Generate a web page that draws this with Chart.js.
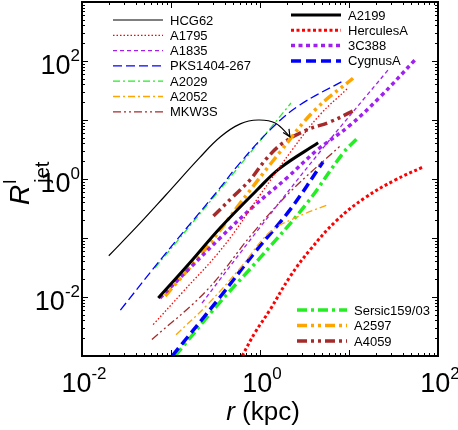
<!DOCTYPE html>
<html>
<head>
<meta charset="utf-8">
<script src="https://cdn.jsdelivr.net/npm/chart.js@4"></script>
<style>
  body { margin: 0; background: #fff; }
</style>
</head>
<body>
<canvas id="chart" width="458" height="430"></canvas>
<script>
// [r (kpc), R^l_jet] pairs
const HCG62 = [[0.020, 0.050], [0.042, 0.16], [0.086, 0.52], [0.21, 2.3], [0.36, 5.2], [0.60, 8.6], [0.95, 10], [1.48, 8.9], [2.17, 5.2]]
const A1795 = [[0.063, 0.0034], [0.136, 0.0122], [0.384, 0.070], [1.0, 0.535], [2.29, 3.1], [4.7, 12.2], [9.5, 33.5]]
const A1835 = [[0.223, 0.0079], [0.95, 0.137], [4.7, 2.87], [27.4, 70]]
const PKS1404 = [[0.027, 0.006], [0.081, 0.048], [0.34, 0.65], [0.60, 1.9], [1.40, 7.6], [2.8, 18], [8.6, 46]]
const A2029 = [[0.066, 0.031], [0.36, 0.68], [2.23, 19.4]]
const A2052 = [[0.114, 0.0023], [0.254, 0.0073], [0.60, 0.031], [1.29, 0.126], [2.47, 0.218], [5.66, 0.362]]
const MKW3S = [[0.061, 0.0019], [0.254, 0.0131], [0.834, 0.122], [2.17, 0.60], [7.9, 3.6]]
const A2199 = [[0.072, 0.0096], [0.163, 0.038], [0.356, 0.148], [0.925, 0.65], [1.68, 1.53], [4.5, 4.1]]
const HERCULES = [[0.63, 0.001], [0.88, 0.0025], [1.29, 0.006], [2.17, 0.022], [3.65, 0.063], [7.3, 0.20], [15.1, 0.48], [33, 0.96], [68, 1.6]]
const C3C388 = [[0.075, 0.0096], [0.163, 0.031], [0.356, 0.10], [0.83, 0.335], [2.0, 1.04], [4.4, 3.1], [10.3, 8.2], [22.3, 24.5], [55, 104]]
const CYGNUS = [[0.103, 0.001], [0.356, 0.01], [0.88, 0.058], [2.17, 0.30], [5.1, 1.94]]
const SERSIC = [[0.111, 0.001], [0.356, 0.0082], [1.0, 0.046], [3.37, 0.39], [8.6, 2.76], [12.6, 5.0]]
const A2597 = [[0.086, 0.0104], [0.254, 0.070], [0.60, 0.39], [1.68, 2.87], [4.15, 14.8], [11.1, 51]]
const A4059 = [[0.30, 0.236], [0.48, 0.476], [0.77, 0.96], [1.2, 2.27], [1.81, 4.07], [3.37, 6.8], [6.1, 9.25], [11.1, 14.2]]

const X_LABELS = [[0.01, '10', '-2'], [1, '10', '0'], [100, '10', '2']]
const Y_LABELS = [[0.01, '10', '-2'], [1, '10', '0'], [100, '10', '2']]

const LEGEND_LEFT = ['HCG62', 'A1795', 'A1835', 'PKS1404-267', 'A2029', 'A2052', 'MKW3S']
const LEGEND_RIGHT = ['A2199', 'HerculesA', '3C388', 'CygnusA']
const LEGEND_BOTTOM = ['Sersic159/03', 'A2597', 'A4059']

const FONT = '"Liberation Sans", Arial, sans-serif'

const series = [
  { label: 'HCG62', data: HCG62, color: '#000000', width: 1.2, dash: [] },
  { label: 'A1795', data: A1795, color: '#ff0000', width: 1.3, dash: [1.5, 2] },
  { label: 'A1835', data: A1835, color: '#a020f0', width: 1.3, dash: [4, 3] },
  { label: 'PKS1404-267', data: PKS1404, color: '#0000ff', width: 1.3, dash: [9, 4] },
  { label: 'A2029', data: A2029, color: '#22ee22', width: 1.3, dash: [7, 3, 2, 3] },
  { label: 'A2052', data: A2052, color: '#ffa500', width: 1.3, dash: [7, 3, 2, 3] },
  { label: 'MKW3S', data: MKW3S, color: '#a52a2a', width: 1.3, dash: [8, 3, 2, 3, 2, 3] },
  { label: 'A2199', data: A2199, color: '#000000', width: 3, dash: [] },
  { label: 'HerculesA', data: HERCULES, color: '#ff0000', width: 3, dash: [3, 2.5] },
  { label: '3C388', data: C3C388, color: '#a020f0', width: 3.5, dash: [4, 3.5] },
  { label: 'CygnusA', data: CYGNUS, color: '#0000ff', width: 3.5, dash: [10, 5] },
  { label: 'Sersic159/03', data: SERSIC, color: '#22ee22', width: 3.5, dash: [10, 4, 3, 4] },
  { label: 'A2597', data: A2597, color: '#ffa500', width: 3.5, dash: [10, 4, 3, 4, 3, 4] },
  { label: 'A4059', data: A4059, color: '#a52a2a', width: 3.5, dash: [10, 4, 3, 4, 3, 4] }
]

const datasets = series.map(s => ({
  label: s.label,
  data: s.data,
  borderColor: s.color,
  borderWidth: s.width,
  borderDash: s.dash,
  pointRadius: 0,
  fill: false,
  tension: 0.4
}))

function drawPow(ctx, base, exp, x, y, align) {
  ctx.font = '27px ' + FONT
  const w1 = ctx.measureText(base).width
  ctx.font = '17px ' + FONT
  const w2 = ctx.measureText(exp).width
  let x0 = x
  if (align === 'center') x0 = x - (w1 + w2) / 2
  if (align === 'right') x0 = x - (w1 + w2)
  ctx.textAlign = 'left'
  ctx.textBaseline = 'alphabetic'
  ctx.font = '27px ' + FONT
  ctx.fillText(base, x0, y)
  ctx.font = '17px ' + FONT
  ctx.fillText(exp, x0 + w1, y - 13)
}

function drawLegend(chart, names, x1, x2, y0, step) {
  const ctx = chart.ctx
  names.forEach((name, i) => {
    const ds = chart.data.datasets.find(d => d.label === name)
    const y = y0 + i * step
    ctx.save()
    ctx.strokeStyle = ds.borderColor
    ctx.lineWidth = ds.borderWidth
    ctx.setLineDash(ds.borderDash)
    ctx.beginPath()
    ctx.moveTo(x1, y)
    ctx.lineTo(x2, y)
    ctx.stroke()
    ctx.restore()
    ctx.fillStyle = '#000'
    ctx.font = '13px ' + FONT
    ctx.textAlign = 'left'
    ctx.textBaseline = 'middle'
    ctx.fillText(name, x2 + 7, y + 1)
  })
}

const decor = {
  id: 'decor',
  afterDatasetsDraw(chart) {
    const { ctx, chartArea: a, scales: { x, y } } = chart
    ctx.save()

    // arrow head at the end of HCG62
    const pts = chart.getDatasetMeta(0).data
    const tip = pts[pts.length - 1], prev = pts[pts.length - 2]
    const ang = Math.atan2(tip.y - prev.y, tip.x - prev.x) + 0.25
    ctx.strokeStyle = '#000'
    ctx.lineWidth = 1.2
    ctx.beginPath()
    ctx.moveTo(tip.x - 8 * Math.cos(ang - 0.45), tip.y - 8 * Math.sin(ang - 0.45))
    ctx.lineTo(tip.x, tip.y)
    ctx.lineTo(tip.x - 8 * Math.cos(ang + 0.45), tip.y - 8 * Math.sin(ang + 0.45))
    ctx.stroke()

    // frame
    ctx.lineWidth = 2
    ctx.strokeRect(a.left, a.top, a.right - a.left, a.bottom - a.top)

    // inward ticks on all four sides
    ctx.lineWidth = 1
    ctx.beginPath()
    for (let e = -2; e <= 2; e++) {
      for (let m = 1; m <= 9; m++) {
        const v = m * Math.pow(10, e)
        if (v > 100.001) break
        const px = Math.round(x.getPixelForValue(v)) + 0.5
        const len = m === 1 ? 6 : 3
        ctx.moveTo(px, a.bottom); ctx.lineTo(px, a.bottom - len)
        ctx.moveTo(px, a.top); ctx.lineTo(px, a.top + len)
      }
    }
    for (let e = -3; e <= 3; e++) {
      for (let m = 1; m <= 9; m++) {
        const v = m * Math.pow(10, e)
        if (v > 1000.001) break
        const py = Math.round(y.getPixelForValue(v)) + 0.5
        const len = m === 1 ? 6 : 3
        ctx.moveTo(a.left, py); ctx.lineTo(a.left + len, py)
        ctx.moveTo(a.right, py); ctx.lineTo(a.right - len, py)
      }
    }
    ctx.stroke()

    // tick labels
    ctx.fillStyle = '#000'
    X_LABELS.forEach(([v, b, p]) => drawPow(ctx, b, p, x.getPixelForValue(v) + 2, a.bottom + 36, 'center'))
    Y_LABELS.forEach(([v, b, p]) => drawPow(ctx, b, p, a.left - 2, y.getPixelForValue(v) + 13, 'right'))

    // x title
    ctx.textBaseline = 'alphabetic'
    ctx.font = 'italic 26px ' + FONT
    const wr = ctx.measureText('r').width
    ctx.font = '26px ' + FONT
    const wk = ctx.measureText(' (kpc)').width
    const tx = (a.left + a.right) / 2 + 3 - (wr + wk) / 2
    ctx.font = 'italic 26px ' + FONT
    ctx.fillText('r', tx, 420)
    ctx.font = '26px ' + FONT
    ctx.fillText(' (kpc)', tx + wr, 420)

    // y title
    ctx.save()
    ctx.translate(29, 205)
    ctx.rotate(-Math.PI / 2)
    ctx.font = 'italic 28px ' + FONT
    ctx.fillText('R', 0, 0)
    const wR = ctx.measureText('R').width
    ctx.font = '18px ' + FONT
    ctx.fillText('l', wR + 1, -13)
    ctx.font = '20px ' + FONT
    ctx.fillText('jet', wR + 2, 20)
    ctx.restore()

    // legends
    drawLegend(chart, LEGEND_LEFT, 113, 163, 20, 15.3)
    drawLegend(chart, LEGEND_RIGHT, 291, 341, 15, 15.3)
    drawLegend(chart, LEGEND_BOTTOM, 297, 347, 310, 15.5)

    ctx.restore()
  }
}

new Chart(document.getElementById('chart'), {
  type: 'line',
  data: { datasets },
  options: {
    responsive: false,
    animation: false,
    devicePixelRatio: 1,
    layout: { padding: { left: 82, right: 20, top: 2, bottom: 74 } },
    scales: {
      x: { type: 'logarithmic', min: 0.01, max: 100, display: false },
      y: { type: 'logarithmic', min: 0.001, max: 1000, display: false }
    },
    plugins: { legend: { display: false }, tooltip: { enabled: false } }
  },
  plugins: [decor]
})
</script>
</body>
</html>
